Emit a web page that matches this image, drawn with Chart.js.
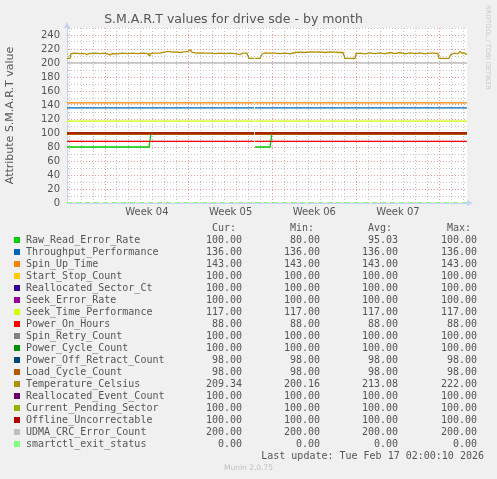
<!DOCTYPE html>
<html>
<head>
<meta charset="utf-8">
<title>S.M.A.R.T values for drive sde - by month</title>
<script src="https://cdn.jsdelivr.net/npm/chart.js@4.4.1/dist/chart.umd.min.js"></script>
<style>
    html, body { margin: 0; padding: 0; background: #f0f0f0; }
    #wrap { position: relative; width: 497px; height: 479px; overflow: hidden; }
    #graph { position: absolute; left: 0; top: 0; }
    #legend { position: absolute; left: 0; top: 0; width: 497px; font: 10px 'DejaVu Sans Mono', monospace; color: #555; }
    .row { position: absolute; left: 0; width: 497px; height: 12px; line-height: 12px; white-space: pre; }
    .sw { position: absolute; left: 14px; top: 3px; width: 6px; height: 6px; }
    .name { position: absolute; left: 26px; }
    .num { position: absolute; text-align: right; }
    #rrd { position: absolute; left: 484px; top: 5px; writing-mode: vertical-rl; font: 6.6px 'DejaVu Sans', sans-serif; color: #c8c8c8; }
    #munin { position: absolute; left: 0; width: 497px; top: 463px; text-align: center; font: 7.5px 'DejaVu Sans', sans-serif; color: #c0c0c0; }
</style>
</head>
<body>
<div id="wrap">
    <canvas id="graph" width="497" height="479"></canvas>
    <div id="legend"></div>
    <div id="rrd">RRDTOOL / TOBI OETIKER</div>
    <div id="munin">Munin 2.0.75</div>
</div>
<script>
// days are counted from Monday of week 04
const xStart = -3.18;
const xEnd = 30.27;
const gapDay = 12.5;

const weekLabels = ['Week 04', 'Week 05', 'Week 06', 'Week 07'];
const weekStarts = [0, 7, 14, 21, 28];

const seriesNames = [
    'Raw_Read_Error_Rate', 'Throughput_Performance', 'Spin_Up_Time', 'Start_Stop_Count',
    'Reallocated_Sector_Ct', 'Seek_Error_Rate', 'Seek_Time_Performance', 'Power_On_Hours',
    'Spin_Retry_Count', 'Power_Cycle_Count', 'Power_Off_Retract_Count', 'Load_Cycle_Count',
    'Temperature_Celsius', 'Reallocated_Event_Count', 'Current_Pending_Sector',
    'Offline_Uncorrectable', 'UDMA_CRC_Error_Count', 'smartctl_exit_status'
];
const seriesColors = [
    '#00CC00', '#0066B3', '#FF8000', '#FFCC00', '#330099', '#990099', '#CCFF00', '#FF0000',
    '#808080', '#008F00', '#00487D', '#B35A00', '#B38F00', '#6B006B', '#8FB300', '#B30000',
    '#BEBEBE', '#80FF80'
];

// flat attributes (null = drawn from its own arrays below)
const levelValues = [null, 136, 143, 100, 100, 100, 117, 88, 100, 100, 98, 98, null, 100, 100, 100, 200, 0];

const rawDays = [-3.18, 3.68, 3.85, 12.46, 12.5, 12.54, 13.80, 13.96, 30.27];
const rawValues = [80, 80, 100, 100, null, 80, 80, 100, 100];

const tempDays = [
    -3.18, -2.93, -2.84, -2.51, -2.09, -1.67, -1.51, -1.34, -0.84, -0.42, 0, 0.42, 0.59, 1.09, 1.42,
    1.92, 2.26, 2.76, 3.09, 3.60, 3.68, 3.76, 4.18, 4.60, 5.02, 5.27, 5.60, 5.94, 6.27, 6.61, 6.94,
    7.11, 7.27, 7.61, 7.94, 8.36, 8.78, 9.20, 9.62, 10.03, 10.45, 10.87, 11.29, 11.54, 11.87, 12.04,
    12.46, 12.5, 12.54, 12.96, 13.13, 13.38, 13.80, 14.21, 14.63, 15.05, 15.47, 15.89, 16.30, 16.72,
    17.14, 17.56, 17.98, 18.39, 18.81, 19.23, 19.65, 19.90, 20.07, 20.90, 20.99, 21.32, 21.74, 22.16,
    22.58, 22.99, 23.41, 23.83, 24.25, 24.67, 25.08, 25.50, 25.92, 26.34, 26.76, 27.17, 27.59, 27.84,
    27.93, 28.76, 28.93, 29.26, 29.52, 29.68, 29.85, 30.02, 30.27
];
const tempValues = [
    206.5, 206.5, 213.5, 214, 213.5, 213.5, 212, 213.5, 214, 213.5, 214, 211.5, 213.5, 213, 214,
    213.5, 214, 213.5, 214, 213.5, 210.5, 213.5, 214, 214, 216, 216.5, 215.5, 216, 215, 216, 216.5,
    219, 215.5, 214, 214.5, 214, 214, 213.5, 214, 213.5, 214, 213.5, 212, 214, 214, 206.5,
    206.5, null, 206.5, 206.5, 213, 214.5, 214, 214, 213.5, 214, 213, 215, 215.5, 215,
    216, 215.5, 216, 215, 216, 215.5, 215, 215, 206.5, 206.5, 213.5, 214, 213, 214.5,
    213.5, 214.5, 213, 215, 213.5, 215, 213, 214.5, 213.5, 214.5, 213, 214, 214, 213.5,
    206.5, 206.5, 212.5, 214, 213, 216.5, 214, 214.5, 212
];

const curValues = [100, 136, 143, 100, 100, 100, 117, 88, 100, 100, 98, 98, 209.34, 100, 100, 100, 200, 0];
const minValues = [80, 136, 143, 100, 100, 100, 117, 88, 100, 100, 98, 98, 200.16, 100, 100, 100, 200, 0];
const avgValues = [95.03, 136, 143, 100, 100, 100, 117, 88, 100, 100, 98, 98, 213.08, 100, 100, 100, 200, 0];
const maxValues = [100, 136, 143, 100, 100, 100, 117, 88, 100, 100, 98, 98, 222, 100, 100, 100, 200, 0];

const lastUpdate = 'Last update: Tue Feb 17 02:00:10 2026';

const yMax = 250;
const yMinorStep = 10;
const yLabelStep = 20;

const pairs = (xs, ys) => xs.map((x, i) => ({x: x, y: ys[i]}));

const datasets = seriesNames.map((name, i) => {
    let data;
    if (i === 0) {
        data = pairs(rawDays, rawValues);
    } else if (i === 12) {
        data = pairs(tempDays, tempValues);
    } else {
        const v = levelValues[i];
        data = [{x: xStart, y: v}, {x: gapDay - 0.04, y: v}, {x: gapDay, y: null},
                {x: gapDay + 0.04, y: v}, {x: xEnd, y: v}];
    }
    return {
        label: name,
        data: data,
        borderColor: seriesColors[i],
        backgroundColor: seriesColors[i],
        borderWidth: i === 17 ? 2 : 1.3,
        borderDash: i === 17 ? [5, 4] : [],
        pointRadius: 0,
        tension: 0,
        spanGaps: false,
        order: -i
    };
});

const plotBack = {
    id: 'plotBack',
    beforeDraw(chart) {
        const a = chart.chartArea;
        const ctx = chart.ctx;
        ctx.save();
        ctx.fillStyle = '#ffffff';
        ctx.fillRect(a.left, a.top, a.right - a.left, a.bottom - a.top);
        ctx.restore();
    },
    afterDraw(chart) {
        const a = chart.chartArea;
        const ctx = chart.ctx;
        ctx.save();
        ctx.fillStyle = '#c8d0f4';
        ctx.beginPath();
        ctx.moveTo(a.left - 3, a.top);
        ctx.lineTo(a.left + 3, a.top);
        ctx.lineTo(a.left, a.top - 6);
        ctx.fill();
        ctx.beginPath();
        ctx.moveTo(a.right, a.bottom - 3);
        ctx.lineTo(a.right, a.bottom + 3);
        ctx.lineTo(a.right + 6, a.bottom);
        ctx.fill();
        ctx.restore();
    }
};

new Chart(document.getElementById('graph'), {
    type: 'line',
    data: {datasets: datasets},
    plugins: [plotBack],
    options: {
        responsive: false,
        animation: false,
        devicePixelRatio: 1,
        layout: {padding: {left: 0, right: 30, top: 0, bottom: 256}},
        plugins: {
            legend: {display: false},
            tooltip: {enabled: false},
            title: {
                display: true,
                text: 'S.M.A.R.T values for drive sde - by month',
                color: '#555',
                font: {family: 'DejaVu Sans', size: 12.5, weight: 'normal'},
                padding: {top: 12, bottom: 1}
            }
        },
        scales: {
            x: {
                type: 'linear',
                min: xStart,
                max: xEnd,
                afterBuildTicks: (scale) => {
                    const ticks = [];
                    for (let d = Math.ceil(xStart); d <= xEnd; d++) ticks.push({value: d});
                    weekLabels.forEach((w, i) => ticks.push({value: weekStarts[i] + 3.5}));
                    ticks.sort((a, b) => a.value - b.value);
                    scale.ticks = ticks;
                },
                afterFit: (scale) => { scale.height = 20; },
                ticks: {
                    autoSkip: false,
                    maxRotation: 0,
                    padding: 3,
                    color: '#555',
                    font: {family: 'DejaVu Sans', size: 10},
                    callback: (v) => {
                        const i = weekStarts.findIndex(s => Math.abs(s + 3.5 - v) < 0.01);
                        return i >= 0 && i < weekLabels.length ? weekLabels[i] : '';
                    }
                },
                grid: {
                    drawTicks: false,
                    lineWidth: 1,
                    color: (ctx) => {
                        const v = ctx.tick ? ctx.tick.value : 0;
                        if (!Number.isInteger(v)) return 'rgba(0,0,0,0)';
                        if (weekStarts.includes(v)) return 'rgba(240,140,140,0.9)';
                        return 'rgba(190,190,190,0.9)';
                    }
                },
                border: {display: true, color: '#c8d0f4', width: 1, dash: [1, 2]}
            },
            y: {
                min: 0,
                max: yMax,
                afterBuildTicks: (scale) => {
                    const ticks = [];
                    for (let v = 0; v <= yMax; v += yMinorStep) ticks.push({value: v});
                    scale.ticks = ticks;
                },
                afterFit: (scale) => { scale.width = 67; },
                ticks: {
                    autoSkip: false,
                    padding: 7,
                    color: '#555',
                    font: {family: 'DejaVu Sans', size: 10},
                    callback: (v) => v % yLabelStep === 0 ? String(v) : ''
                },
                grid: {
                    drawTicks: false,
                    lineWidth: 1,
                    color: (ctx) => {
                        const v = ctx.tick ? ctx.tick.value : 0;
                        return v % yLabelStep === 0 ? 'rgba(240,140,140,0.9)' : 'rgba(190,190,190,0.9)';
                    }
                },
                border: {display: true, color: '#c8d0f4', width: 1, dash: [1, 2]},
                title: {
                    display: true,
                    text: 'Attribute S.M.A.R.T value',
                    color: '#555',
                    font: {family: 'DejaVu Sans', size: 11},
                    padding: {top: 4, bottom: 0}
                }
            }
        }
    }
});

// legend table under the graph
const legend = document.getElementById('legend');
const colRights = [255, 177, 99, 20];
const colHeads = ['Cur: ', 'Min: ', 'Avg: ', 'Max: '];
const rowTop = 221.7;

function addRow(top) {
    const row = document.createElement('div');
    row.className = 'row';
    row.style.top = top + 'px';
    legend.appendChild(row);
    return row;
}
function addNum(row, text, right) {
    const s = document.createElement('span');
    s.className = 'num';
    s.style.right = right + 'px';
    s.textContent = text;
    row.appendChild(s);
}

const head = addRow(rowTop);
colHeads.forEach((h, i) => addNum(head, h, colRights[i]));

seriesNames.forEach((name, i) => {
    const row = addRow(rowTop + 12 * (i + 1));
    const sw = document.createElement('span');
    sw.className = 'sw';
    sw.style.background = seriesColors[i];
    row.appendChild(sw);
    const n = document.createElement('span');
    n.className = 'name';
    n.textContent = name;
    row.appendChild(n);
    [curValues, minValues, avgValues, maxValues].forEach((arr, c) => {
        addNum(row, arr[i].toFixed(2), colRights[c]);
    });
});

const upd = addRow(rowTop + 12 * (seriesNames.length + 1));
addNum(upd, lastUpdate, 13);
</script>
</body>
</html>
